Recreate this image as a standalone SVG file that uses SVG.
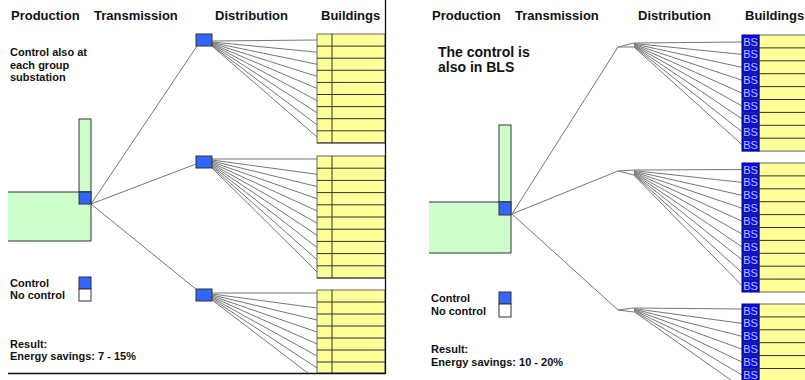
<svg xmlns="http://www.w3.org/2000/svg" width="805" height="380" viewBox="0 0 805 380">
<style>
.h{font-family:"Liberation Sans",Arial,sans-serif;font-weight:bold;font-size:13px;fill:#111}
.t{font-family:"Liberation Sans",Arial,sans-serif;font-weight:bold;font-size:11px;fill:#111}
.big{font-family:"Liberation Sans",Arial,sans-serif;font-weight:bold;font-size:14px;fill:#111}
.bs{font-family:"Liberation Sans",Arial,sans-serif;font-size:11px;fill:#b8c4ff;text-anchor:middle}
.grn{fill:#ccffcc;stroke:#333;stroke-width:1}
.ctl{fill:#3366ff;stroke:#333;stroke-width:1}
.noc{fill:#fff;stroke:#333;stroke-width:1}
.yel{fill:#ffff99;stroke:#666;stroke-width:1}
.row{stroke:#333;stroke-width:1}
.bsc{fill:#0a0af0;stroke:#000066;stroke-width:1}
.ln{stroke:#777;stroke-width:1;fill:none}
</style>
<defs>
<clipPath id="clipL"><rect x="0" y="0" width="386" height="373"/></clipPath>
</defs>
<rect width="805" height="380" fill="#fff"/>

<!-- LEFT PANEL -->
<g id="left-headers">
<text class="h" x="11" y="20">Production</text>
<text class="h" x="94" y="20">Transmission</text>
<text class="h" x="215" y="20">Distribution</text>
<text class="h" x="321" y="20">Buildings</text>
</g>
<g id="left-note">
<text class="t" x="10" y="56">Control also at</text>
<text class="t" x="10" y="68.5">each group</text>
<text class="t" x="10" y="81">substation</text>
</g>

<g id="left-connectors">
<line class="ln" x1="91" y1="204" x2="197" y2="46"/>
<line class="ln" x1="91" y1="204" x2="196" y2="164"/>
<line class="ln" x1="91" y1="204" x2="197" y2="290"/>
<!-- top fan -->
<line class="ln" x1="212" y1="41" x2="317" y2="40"/>
<line class="ln" x1="212" y1="42" x2="317" y2="52.2"/>
<line class="ln" x1="212" y1="42.6" x2="317" y2="64.3"/>
<line class="ln" x1="212" y1="43.2" x2="317" y2="76.4"/>
<line class="ln" x1="212" y1="43.8" x2="317" y2="88.5"/>
<line class="ln" x1="212" y1="44.4" x2="317" y2="100.6"/>
<line class="ln" x1="212" y1="45" x2="317" y2="112.7"/>
<line class="ln" x1="212" y1="45.6" x2="317" y2="124.8"/>
<line class="ln" x1="212" y1="46" x2="317" y2="136.9"/>
<!-- middle fan -->
<line class="ln" x1="212" y1="159" x2="317" y2="159"/>
<line class="ln" x1="212" y1="160" x2="317" y2="174.3"/>
<line class="ln" x1="212" y1="161" x2="317" y2="186.5"/>
<line class="ln" x1="212" y1="162" x2="317" y2="198.7"/>
<line class="ln" x1="212" y1="163" x2="317" y2="210.9"/>
<line class="ln" x1="212" y1="164" x2="317" y2="223.1"/>
<line class="ln" x1="212" y1="165" x2="317" y2="235.3"/>
<line class="ln" x1="212" y1="166" x2="317" y2="247.5"/>
<line class="ln" x1="212" y1="167" x2="317" y2="259.7"/>
<line class="ln" x1="212" y1="168" x2="317" y2="271.9"/>
<!-- lower fan -->
<g clip-path="url(#clipL)">
<line class="ln" x1="212" y1="293" x2="317" y2="293"/>
<line class="ln" x1="212" y1="294" x2="317" y2="308"/>
<line class="ln" x1="212" y1="295" x2="317" y2="320"/>
<line class="ln" x1="212" y1="296" x2="317" y2="332"/>
<line class="ln" x1="212" y1="297" x2="317" y2="344"/>
<line class="ln" x1="212" y1="298" x2="317" y2="356"/>
<line class="ln" x1="212" y1="299" x2="317" y2="368"/>
<line class="ln" x1="212" y1="300" x2="317" y2="380"/>
</g>
</g>

<g id="left-production">
<rect class="grn" x="79" y="119" width="12" height="73"/>
<path d="M8 192 H91 V241 H8" class="grn"/>
<rect class="ctl" x="79" y="192" width="12" height="12"/>
</g>

<g id="left-dist-1"><rect class="ctl" x="196" y="34" width="16" height="12"/></g>
<g id="left-dist-2"><rect class="ctl" x="196" y="156" width="16" height="12"/></g>
<g id="left-dist-3"><rect class="ctl" x="196" y="289" width="16" height="12"/></g>

<g id="left-buildings-1">
<rect class="yel" x="317" y="34" width="68" height="109"/>
<line class="row" x1="332" y1="34" x2="332" y2="143"/>
<path class="row" d="M317 46.1H385M317 58.2H385M317 70.3H385M317 82.4H385M317 94.5H385M317 106.6H385M317 118.7H385M317 130.8H385M317 142.9H385"/>
</g>
<g id="left-buildings-2">
<rect class="yel" x="317" y="156" width="68" height="122"/>
<line class="row" x1="332" y1="156" x2="332" y2="278"/>
<path class="row" d="M317 168.2H385M317 180.4H385M317 192.6H385M317 204.8H385M317 217H385M317 229.2H385M317 241.4H385M317 253.6H385M317 265.8H385M317 278H385"/>
</g>
<g id="left-buildings-3">
<rect class="yel" x="317" y="290" width="68" height="83"/>
<line class="row" x1="332" y1="290" x2="332" y2="373"/>
<path class="row" d="M317 302H385M317 314H385M317 326H385M317 338H385M317 350H385M317 362H385"/>
</g>

<g id="left-frame">
<line x1="385.5" y1="0" x2="385.5" y2="374" stroke="#111" stroke-width="1.3"/>
<line x1="8" y1="373.5" x2="386" y2="373.5" stroke="#111" stroke-width="1.3"/>
</g>

<g id="left-legend">
<text class="t" x="10" y="287">Control</text>
<text class="t" x="10" y="299">No control</text>
<rect class="ctl" x="79" y="277" width="12" height="12"/>
<rect class="noc" x="79" y="289" width="12" height="12"/>
<text class="t" x="10" y="348">Result:</text>
<text class="t" x="10" y="360">Energy savings: 7 - 15%</text>
</g>

<!-- RIGHT PANEL -->
<g id="right-headers">
<text class="h" x="432" y="20">Production</text>
<text class="h" x="515" y="20">Transmission</text>
<text class="h" x="638" y="20">Distribution</text>
<text class="h" x="745" y="20">Buildings</text>
</g>
<g id="right-note">
<text class="big" x="438" y="57">The control is</text>
<text class="big" x="438" y="72">also in BLS</text>
</g>

<g id="right-connectors">
<line class="ln" x1="512" y1="214" x2="618" y2="47"/>
<line class="ln" x1="512" y1="214" x2="618" y2="171"/>
<line class="ln" x1="512" y1="214" x2="618" y2="310"/>
<line class="ln" x1="618" y1="47" x2="634" y2="43"/>
<line class="ln" x1="618" y1="47" x2="634" y2="47"/>
<line class="ln" x1="618" y1="171" x2="634" y2="170"/>
<line class="ln" x1="618" y1="171" x2="634" y2="175"/>
<line class="ln" x1="618" y1="310" x2="634" y2="308"/>
<line class="ln" x1="618" y1="310" x2="634" y2="312"/>
<!-- top fan -->
<line class="ln" x1="634" y1="43" x2="742" y2="42"/>
<line class="ln" x1="634" y1="43.5" x2="742" y2="54.4"/>
<line class="ln" x1="634" y1="44" x2="742" y2="67.3"/>
<line class="ln" x1="634" y1="44.5" x2="742" y2="80.2"/>
<line class="ln" x1="634" y1="45" x2="742" y2="93.1"/>
<line class="ln" x1="634" y1="45.5" x2="742" y2="106"/>
<line class="ln" x1="634" y1="46" x2="742" y2="118.9"/>
<line class="ln" x1="634" y1="46.5" x2="742" y2="131.8"/>
<line class="ln" x1="634" y1="47" x2="742" y2="144.7"/>
<!-- middle fan -->
<line class="ln" x1="634" y1="170" x2="742" y2="169.5"/>
<line class="ln" x1="634" y1="170.6" x2="742" y2="182.4"/>
<line class="ln" x1="634" y1="171.2" x2="742" y2="195.3"/>
<line class="ln" x1="634" y1="171.8" x2="742" y2="208.2"/>
<line class="ln" x1="634" y1="172.4" x2="742" y2="221.1"/>
<line class="ln" x1="634" y1="173" x2="742" y2="234"/>
<line class="ln" x1="634" y1="173.6" x2="742" y2="246.9"/>
<line class="ln" x1="634" y1="174.2" x2="742" y2="259.8"/>
<line class="ln" x1="634" y1="174.8" x2="742" y2="272.7"/>
<line class="ln" x1="634" y1="175.4" x2="742" y2="285.6"/>
<!-- lower fan -->
<line class="ln" x1="634" y1="308" x2="742" y2="309"/>
<line class="ln" x1="634" y1="308.6" x2="742" y2="323.4"/>
<line class="ln" x1="634" y1="309.2" x2="742" y2="336.3"/>
<line class="ln" x1="634" y1="309.8" x2="742" y2="349.2"/>
<line class="ln" x1="634" y1="310.4" x2="742" y2="362.1"/>
<line class="ln" x1="634" y1="311" x2="742" y2="375"/>
<line class="ln" x1="634" y1="311.6" x2="742" y2="387.9"/>
</g>

<g id="right-production">
<rect class="grn" x="499" y="125" width="12" height="77"/>
<path d="M429 202 H511 V253 H429" class="grn"/>
<rect class="ctl" x="499" y="202" width="12" height="13"/>
</g>

<g id="right-buildings-1">
<rect class="yel" x="759" y="35" width="50" height="116.1"/>
<rect class="bsc" x="742" y="35" width="17" height="116.1"/>
<path class="row" d="M742 47.9H805M742 60.8H805M742 73.7H805M742 86.6H805M742 99.5H805M742 112.4H805M742 125.3H805M742 138.2H805"/>
<text class="bs" x="750.5" y="45.5">BS</text>
<text class="bs" x="750.5" y="58.4">BS</text>
<text class="bs" x="750.5" y="71.3">BS</text>
<text class="bs" x="750.5" y="84.2">BS</text>
<text class="bs" x="750.5" y="97.1">BS</text>
<text class="bs" x="750.5" y="110">BS</text>
<text class="bs" x="750.5" y="122.9">BS</text>
<text class="bs" x="750.5" y="135.8">BS</text>
<text class="bs" x="750.5" y="148.7">BS</text>
</g>
<g id="right-buildings-2">
<rect class="yel" x="759" y="163" width="50" height="129"/>
<rect class="bsc" x="742" y="163" width="17" height="129"/>
<path class="row" d="M742 175.9H805M742 188.8H805M742 201.7H805M742 214.6H805M742 227.5H805M742 240.4H805M742 253.3H805M742 266.2H805M742 279.1H805"/>
<text class="bs" x="750.5" y="173.5">BS</text>
<text class="bs" x="750.5" y="186.4">BS</text>
<text class="bs" x="750.5" y="199.3">BS</text>
<text class="bs" x="750.5" y="212.2">BS</text>
<text class="bs" x="750.5" y="225.1">BS</text>
<text class="bs" x="750.5" y="238">BS</text>
<text class="bs" x="750.5" y="250.9">BS</text>
<text class="bs" x="750.5" y="263.8">BS</text>
<text class="bs" x="750.5" y="276.7">BS</text>
<text class="bs" x="750.5" y="289.6">BS</text>
</g>
<g id="right-buildings-3">
<rect class="yel" x="759" y="304" width="50" height="90"/>
<rect class="bsc" x="742" y="304" width="17" height="90"/>
<path class="row" d="M742 316.9H805M742 329.8H805M742 342.7H805M742 355.6H805M742 368.5H805"/>
<text class="bs" x="750.5" y="314.5">BS</text>
<text class="bs" x="750.5" y="327.4">BS</text>
<text class="bs" x="750.5" y="340.3">BS</text>
<text class="bs" x="750.5" y="353.2">BS</text>
<text class="bs" x="750.5" y="366.1">BS</text>
<text class="bs" x="750.5" y="379">BS</text>
</g>

<g id="right-legend">
<text class="t" x="431" y="302">Control</text>
<text class="t" x="431" y="315">No control</text>
<rect class="ctl" x="499" y="292" width="12" height="12"/>
<rect class="noc" x="499" y="304" width="12" height="13"/>
<text class="t" x="431" y="353">Result:</text>
<text class="t" x="431" y="366">Energy savings: 10 - 20%</text>
</g>
</svg>
